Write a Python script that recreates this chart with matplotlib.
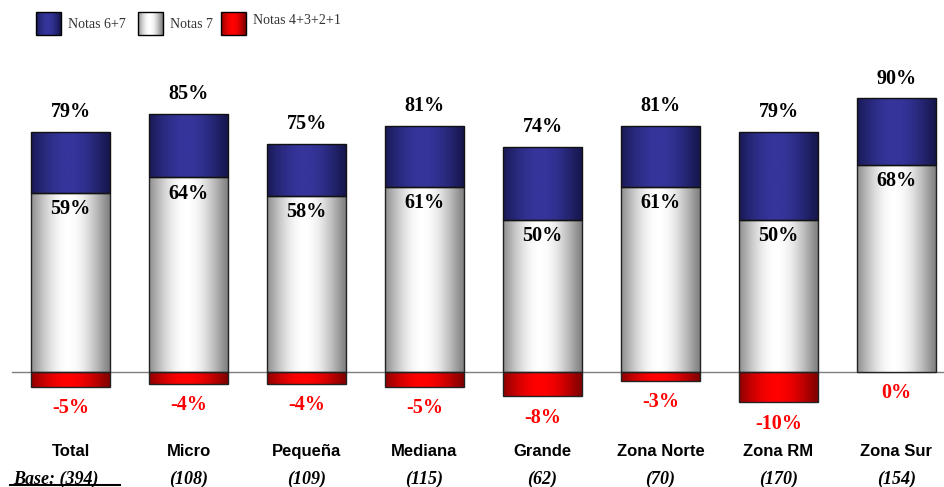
import numpy as np
import matplotlib.pyplot as plt
from matplotlib.patches import Rectangle
from matplotlib.colors import LinearSegmentedColormap

# datos por segmento
categorias = ['Total', 'Micro', 'Pequeña', 'Mediana', 'Grande', 'Zona Norte', 'Zona RM', 'Zona Sur']
bases = ['Base: (394)', '(108)', '(109)', '(115)', '(62)', '(70)', '(170)', '(154)']
notas_6_7 = [79, 85, 75, 81, 74, 81, 79, 90]
notas_7 = [59, 64, 58, 61, 50, 61, 50, 68]
notas_bajas = [-5, -4, -4, -5, -8, -3, -10, 0]

AZUL = ('#15154a', '#35359c')
BLANCO = ('#7a7a7a', '#ffffff')
ROJO = ('#7a0000', '#ff0000')

W, H = 944, 487
fig = plt.figure(figsize=(W / 100, H / 100), dpi=100)
ax = fig.add_axes([0, 0, 1, 1])
ax.axis('off')


def degradado(ax, patch, colores):
    # relleno horizontal: oscuro en los bordes, claro al centro
    x0, y0 = patch.get_x(), patch.get_y()
    w, h = patch.get_width(), patch.get_height()
    if h == 0:
        return
    t = np.linspace(0, 1, 200)
    f = np.clip(1 - ((t - 0.47) / 0.55) ** 2, 0, 1) ** 1.4
    cmap = LinearSegmentedColormap.from_list('g', list(colores))
    im = ax.imshow(f[None, :], cmap=cmap, vmin=0, vmax=1, aspect='auto',
                   extent=(x0, x0 + w, min(y0, y0 + h), max(y0, y0 + h)),
                   interpolation='bilinear', zorder=2)
    im.set_clip_path(patch)


x = np.arange(len(categorias))
ancho = 0.67
alto_azul = [a - b for a, b in zip(notas_6_7, notas_7)]

ax.axhline(0, xmin=12 / W, xmax=1, color='#7f7f7f', lw=1, zorder=1)

b_blanco = ax.bar(x, notas_7, ancho, facecolor='none', edgecolor='#222222', lw=1, zorder=3)
b_azul = ax.bar(x, alto_azul, ancho, bottom=notas_7, facecolor='none', edgecolor='#111111', lw=1, zorder=3)
b_rojo = ax.bar(x, notas_bajas, ancho, facecolor='none', edgecolor='#222222', lw=1, zorder=3)
for p in b_blanco:
    degradado(ax, p, BLANCO)
for p in b_azul:
    degradado(ax, p, AZUL)
for p in b_rojo:
    if p.get_height() == 0:
        p.set_visible(False)
    degradado(ax, p, ROJO)

fnum = dict(family='Liberation Serif', fontweight='bold', fontsize=14.5, ha='center', va='center')
for i in range(len(categorias)):
    ax.text(x[i], notas_6_7[i] + 6.5, f'{notas_6_7[i]}%', color='black', zorder=5, **fnum)
    ax.text(x[i], notas_7[i] - 5.3, f'{notas_7[i]}%', color='black', zorder=5, **fnum)
    ax.text(x[i], notas_bajas[i] - 7, f'{notas_bajas[i]}%', color='#ff0000', zorder=5, **fnum)
    ax.text(x[i], -26.3, categorias[i], family='Liberation Sans', fontweight='bold',
            fontsize=12, ha='center', va='center')
    bx = x[i] if i > 0 else -0.12
    ax.text(bx, -35.3, bases[i], family='Liberation Serif', fontweight='bold',
            fontstyle='italic', fontsize=13, ha='center', va='center')

ax.set_xlim(-70.5 / 118, (W - 70.5) / 118)
ax.set_ylim(-(H - 372) / 3.04, 372 / 3.04)

# leyenda y detalles en coordenadas de pixel
lax = fig.add_axes([0, 0, 1, 1], zorder=5)
lax.set_xlim(0, W)
lax.set_ylim(H, 0)
lax.axis('off')
lax.patch.set_alpha(0)

leyenda = [(36, 'Notas 6+7', AZUL, 24), (138, 'Notas 7', BLANCO, 24), (221, 'Notas 4+3+2+1', ROJO, 20)]
for lx, texto, cols, ty in leyenda:
    r = Rectangle((lx, 12), 25, 23, facecolor='none', edgecolor='black', lw=1, zorder=3)
    lax.add_patch(r)
    degradado(lax, r, cols)
    lax.text(lx + 32, ty, texto, family='Liberation Serif', fontsize=10, color='#333333',
             ha='left', va='center')

lax.plot([10, 120], [485, 485], color='black', lw=1.5)
lax.set_xlim(0, W)
lax.set_ylim(H, 0)

fig.savefig('out.png', dpi=100)
